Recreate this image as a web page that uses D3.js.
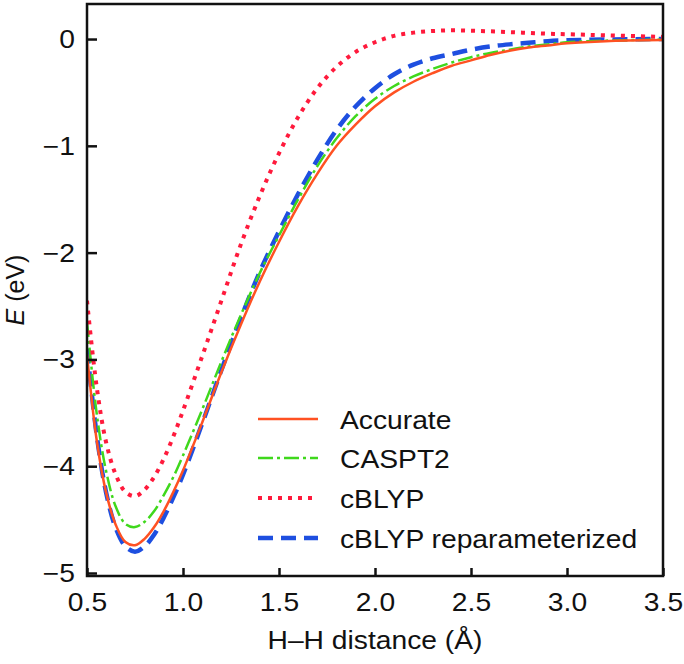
<!DOCTYPE html>
<html>
<head>
<meta charset="utf-8">
<script src="https://cdn.jsdelivr.net/npm/d3@7"></script>
<style>
  html, body { margin: 0; padding: 0; background: #fff; }
  svg { display: block; }
  text { font-family: "Liberation Sans", Arial, Helvetica, sans-serif; fill: #111; }
</style>
</head>
<body>
<svg id="chart" width="684" height="664"></svg>
<script>
// ---- data ----
const distance = [0.50,0.55,0.60,0.65,0.70,0.75,0.80,0.85,0.90,0.95,1.00,1.10,1.20,1.30,1.40,1.50,1.60,1.70,1.80,1.90,2.00,2.10,2.20,2.30,2.40,2.50,2.60,2.70,2.80,2.90,3.00,3.20,3.50];
const accurate = [-2.95,-3.75,-4.25,-4.55,-4.71,-4.74,-4.68,-4.57,-4.42,-4.24,-4.04,-3.59,-3.12,-2.68,-2.27,-1.90,-1.56,-1.26,-1.00,-0.80,-0.63,-0.50,-0.40,-0.32,-0.25,-0.20,-0.15,-0.11,-0.08,-0.06,-0.04,-0.02,-0.01];
const caspt2 = [-2.65,-3.50,-4.05,-4.38,-4.54,-4.57,-4.52,-4.42,-4.27,-4.10,-3.90,-3.47,-3.02,-2.59,-2.19,-1.84,-1.50,-1.19,-0.93,-0.72,-0.56,-0.44,-0.35,-0.28,-0.22,-0.17,-0.13,-0.10,-0.07,-0.05,-0.03,-0.015,-0.005];
const cblyp = [-2.45,-3.25,-3.78,-4.08,-4.24,-4.28,-4.22,-4.10,-3.93,-3.72,-3.48,-2.97,-2.45,-1.93,-1.47,-1.07,-0.73,-0.46,-0.26,-0.12,-0.03,0.03,0.06,0.075,0.082,0.078,0.072,0.065,0.057,0.05,0.045,0.035,0.02];
const cblypRepar = [-2.90,-3.70,-4.25,-4.58,-4.75,-4.80,-4.75,-4.64,-4.48,-4.29,-4.08,-3.60,-3.10,-2.62,-2.18,-1.80,-1.45,-1.13,-0.85,-0.63,-0.46,-0.33,-0.24,-0.18,-0.14,-0.10,-0.07,-0.05,-0.035,-0.02,-0.012,-0.005,0.0];
const seriesNames = ["Accurate","CASPT2","cBLYP","cBLYP reparameterized"];
const xTicks = [0.5,1.0,1.5,2.0,2.5,3.0,3.5];
const yTicks = [0,-1,-2,-3,-4,-5];
const xTitle = "H\u2013H distance (\u00c5)";

// ---- styles ----
const styles = [
  {color:"#ff5122", width:2.5, dash:null},
  {color:"#3fd81c", width:2.5, dash:"15,4,3,4"},
  {color:"#ff1a3c", width:4,   dash:"4,6"},
  {color:"#1e4fe0", width:4.5, dash:"15,8"}
];
const seriesValues = [accurate, caspt2, cblyp, cblypRepar];

const svg = d3.select("#chart");
const L = 87, R = 663, T = 4, B = 576;
const x = d3.scaleLinear().domain([0.5, 3.5]).range([L, R]);
const y = d3.scaleLinear().domain([-5.028, 0.328]).range([B, T]);
const SX = 1.13;

svg.append("defs").append("clipPath").attr("id","clip")
  .append("rect").attr("x",L).attr("y",T).attr("width",R-L).attr("height",B-T);

const line = d3.line().x((d,i)=>x(distance[i])).y(d=>y(d)).curve(d3.curveCatmullRom.alpha(0.5));
const curvesG = svg.append("g").attr("clip-path","url(#clip)");
[3,1,2,0].forEach(k => {
  const st = styles[k];
  curvesG.append("path")
    .attr("d", line(seriesValues[k]))
    .attr("fill","none")
    .attr("stroke", st.color)
    .attr("stroke-width", st.width)
    .attr("stroke-dasharray", st.dash)
    .attr("stroke-linejoin","round");
});

const xAxis = d3.axisBottom(x).tickValues(xTicks).tickFormat(d3.format(".1f"))
  .tickSizeInner(-8).tickSizeOuter(0);
const gx = svg.append("g").attr("transform",`translate(0,${B})`).call(xAxis);
gx.select(".domain").remove();
gx.selectAll(".tick line").attr("stroke","#111").attr("stroke-width",2.5);
gx.selectAll(".tick text")
  .attr("y", 35).attr("dy", null)
  .attr("transform", `scale(${SX},1)`)
  .style("font-size","25px").style("font-family",'"Liberation Sans", Arial, sans-serif').attr("fill","#111");

const yAxis = d3.axisLeft(y).tickValues(yTicks).tickFormat(d3.format("d"))
  .tickSizeInner(-10).tickSizeOuter(0);
const gy = svg.append("g").attr("transform",`translate(${L},0)`).call(yAxis);
gy.select(".domain").remove();
gy.selectAll(".tick line").attr("stroke","#111").attr("stroke-width",2.5);
gy.selectAll(".tick text")
  .attr("x", -12/SX).attr("dy","0.34em")
  .attr("transform", `scale(${SX},1)`)
  .style("font-size","25px").style("font-family",'"Liberation Sans", Arial, sans-serif').attr("fill","#111");

svg.append("rect").attr("x",L).attr("y",T).attr("width",R-L).attr("height",B-T)
  .attr("fill","none").attr("stroke","#111").attr("stroke-width",2.5);

svg.append("g").attr("transform",`translate(${(L+R)/2},649) scale(${SX},1)`)
  .append("text").attr("text-anchor","middle").style("font-size","25px").text(xTitle);

const yl = svg.append("g").attr("transform",`translate(24,${(T+B)/2}) rotate(-90)`)
  .append("text").attr("text-anchor","middle").style("font-size","25px");
yl.append("tspan").attr("font-style","italic").text("E");
yl.append("tspan").text(" (eV)");

const legRows = [420, 459, 499, 539];
const lg = svg.append("g");
seriesNames.forEach((name,k) => {
  const st = styles[k];
  const yy = legRows[k];
  lg.append("line").attr("x1",258).attr("x2",318).attr("y1",yy-1).attr("y2",yy-1)
    .attr("stroke",st.color).attr("stroke-width",st.width).attr("stroke-dasharray",st.dash);
  lg.append("g").attr("transform",`translate(340,${yy+9}) scale(${SX},1)`)
    .append("text").style("font-size","25px").text(name);
});
</script>
</body>
</html>
